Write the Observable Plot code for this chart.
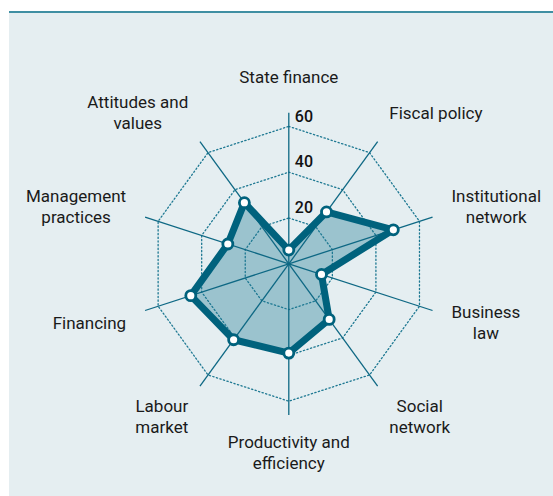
<!DOCTYPE html>
<html><head><meta charset="utf-8">
<script src="https://cdn.jsdelivr.net/npm/d3@7"></script>
<script src="https://cdn.jsdelivr.net/npm/@observablehq/plot@0.6"></script>
<style>
html,body{margin:0;padding:0;background:#fff;}
#panel{position:absolute;left:9px;top:11px;width:544px;height:483px;background:#e5eef1;border-top:2px solid #3f8fa3;}
#panel svg{display:block;}
</style></head><body><div id="panel"></div>
<script>
// ---- data ----
const categories = ["State finance","Fiscal policy","Institutional network","Business law","Social network","Productivity and efficiency","Labour market","Financing","Management practices","Attitudes and values"];
const labelText = ["State finance","Fiscal policy","Institutional\nnetwork","Business\nlaw","Social\nnetwork","Productivity and\nefficiency","Labour\nmarket","Financing","Management\npractices","Attitudes and\nvalues"];
const values = [6, 28, 48, 15, 30, 39, 41, 45, 28, 33];
const ringTicks = [20, 40, 60];
const axisMax = 66;

// ---- layout ----
const W = 544, H = 483;
const cx = 279.3, cy = 250.3;   // centre in svg px
const k = 2.29;                  // px per unit
const FONT = "Roboto, 'Open Sans', sans-serif";
const FS = 17;
const n = categories.length;
const ang = i => i * 2 * Math.PI / n;
const px = (v, i) => v * Math.sin(ang(i));
const py = (v, i) => v * Math.cos(ang(i));

const pts = values.map((v, i) => ({cat: categories[i], x: px(v, i), y: py(v, i)}));
const rings = ringTicks.flatMap(t => categories.map((c, i) => ({t, x: px(t, i), y: py(t, i)})));
const spokes = categories.map((c, i) => ({x1: 0, y1: 0, x2: px(axisMax, i), y2: py(axisMax, i)}));

// label placement: measure text widths, push labels outward
const ctx = document.createElement("canvas").getContext("2d");
ctx.font = `${FS}px ${FONT}`;
const Rx = 171, Ry = 188;
const labels = labelText.map((txt, i) => {
  const lines = txt.split("\n");
  const hw = Math.max(...lines.map(l => ctx.measureText(l).width)) / 2;
  const s = Math.sin(ang(i)), c = Math.cos(ang(i));
  const sg = Math.abs(s) < 0.1 ? 0 : Math.sign(s);
  const X = Rx * s + hw * sg;
  const Y = Ry * c;
  return {txt, x: X / k, y: Y / k};
});

const chart = Plot.plot({
  width: W, height: H,
  margin: 0,
  x: {domain: [-cx / k, (W - cx) / k], range: [0, W], axis: null},
  y: {domain: [-(H - cy) / k, cy / k], range: [H, 0], axis: null},
  style: {background: "transparent", fontFamily: FONT, color: "#1a1a1a"},
  marks: [
    Plot.line(pts, {x: "x", y: "y", curve: "linear-closed", fill: "#9bc3ce", stroke: "none"}),
    Plot.line(rings, {x: "x", y: "y", z: "t", curve: "linear-closed", stroke: "#1d7892", strokeWidth: 1.3, strokeDasharray: "1.3,2.4"}),
    Plot.link(spokes, {x1: "x1", y1: "y1", x2: "x2", y2: "y2", stroke: "#0e6884", strokeWidth: 1.3}),
    Plot.line(pts, {x: "x", y: "y", curve: "linear-closed", stroke: "#00627d", strokeWidth: 7, strokeLinejoin: "round"}),
    Plot.dot(pts, {x: "x", y: "y", r: 5, fill: "white", stroke: "#00627d", strokeWidth: 2.8}),
    Plot.text(ringTicks, {x: 0, y: d => d, text: d => String(d), textAnchor: "start", dx: 6, dy: -10, fontSize: 16, fontWeight: 500, fill: "#111"}),
    Plot.text(labels, {x: "x", y: "y", text: "txt", fontSize: FS, lineHeight: 1.25, fill: "#1a1a1a"})
  ]
});
document.getElementById("panel").appendChild(chart);
</script></body></html>
